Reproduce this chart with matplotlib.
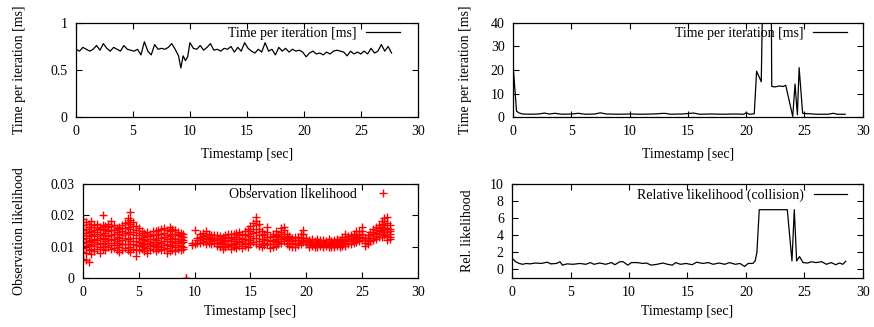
import matplotlib
matplotlib.use("Agg")
import matplotlib.pyplot as plt

plt.rcParams['font.family'] = ['Liberation Serif', 'DejaVu Serif']
plt.rcParams['font.size'] = 10

# --- time per iteration (first run) ---
iter_t = [0.0, 0.3, 0.6, 0.9, 1.2, 1.5, 1.8, 2.1, 2.4, 2.7, 3.0, 3.3, 3.6, 3.9,
          4.2, 4.5, 4.8, 5.1, 5.4, 5.7, 6.0, 6.3, 6.6, 6.9, 7.2, 7.5, 7.8, 8.1,
          8.4, 8.7, 9.0, 9.2, 9.4, 9.6, 9.8, 10.0, 10.3, 10.6, 10.9, 11.2, 11.5,
          11.8, 12.1, 12.4, 12.7, 13.0, 13.3, 13.6, 13.9, 14.2, 14.5, 14.8, 15.1,
          15.4, 15.7, 16.0, 16.3, 16.6, 16.9, 17.2, 17.5, 17.8, 18.1, 18.4, 18.7,
          19.0, 19.3, 19.6, 19.9, 20.2, 20.5, 20.8, 21.1, 21.4, 21.7, 22.0, 22.3,
          22.6, 22.9, 23.2, 23.5, 23.8, 24.1, 24.4, 24.7, 25.0, 25.3, 25.6, 25.9,
          26.2, 26.5, 26.8, 27.1, 27.4, 27.7]
iter_ms = [0.72, 0.70, 0.74, 0.72, 0.70, 0.72, 0.76, 0.71, 0.78, 0.73, 0.70, 0.74,
           0.72, 0.70, 0.76, 0.72, 0.71, 0.70, 0.72, 0.66, 0.80, 0.70, 0.66, 0.77,
           0.72, 0.73, 0.72, 0.74, 0.78, 0.72, 0.65, 0.52, 0.65, 0.60, 0.64, 0.79,
           0.73, 0.72, 0.76, 0.71, 0.74, 0.78, 0.71, 0.72, 0.70, 0.73, 0.72, 0.75,
           0.69, 0.74, 0.70, 0.79, 0.73, 0.70, 0.68, 0.72, 0.69, 0.79, 0.70, 0.72,
           0.66, 0.74, 0.70, 0.73, 0.69, 0.72, 0.70, 0.71, 0.69, 0.64, 0.68, 0.70,
           0.67, 0.68, 0.66, 0.69, 0.67, 0.70, 0.71, 0.70, 0.69, 0.65, 0.70, 0.67,
           0.69, 0.67, 0.70, 0.67, 0.73, 0.68, 0.70, 0.77, 0.70, 0.75, 0.68]

# --- time per iteration (collision run) ---
coll_t = [0.0, 0.05, 0.3, 0.5, 0.8, 1.5, 2.2, 2.7, 3.1, 3.6, 4.2, 5.0, 5.6, 6.2,
          7.0, 7.5, 8.0, 9.0, 10.0, 11.0, 12.0, 13.0, 13.5, 14.5, 15.5, 16.0,
          17.0, 18.0, 19.0, 19.8, 20.0, 20.3, 20.7, 20.9, 21.3, 21.45, 22.15,
          22.2, 22.5, 22.8, 23.2, 23.4, 24.0, 24.2, 24.4, 24.55, 24.85, 25.0,
          25.5, 26.0, 27.0, 27.5, 27.8, 28.5]
coll_ms = [11.0, 19.0, 2.5, 1.8, 1.3, 1.2, 1.3, 1.7, 1.3, 1.6, 1.2, 1.3, 1.6, 1.2,
           1.3, 1.8, 1.3, 1.2, 1.3, 1.2, 1.3, 1.6, 1.2, 1.3, 1.7, 1.2, 1.3, 1.2,
           1.3, 1.2, 1.8, 1.2, 1.4, 19.5, 15.0, 60.0, 60.0, 13.0, 12.8, 13.2,
           13.0, 13.5, 0.3, 14.0, 1.0, 21.0, 1.6, 1.5, 1.4, 1.2, 1.2, 1.6, 1.2, 1.2]

# --- observation likelihood (x 1e-3), one column of samples per timestamp ---
obs_t = [0.0, 0.25, 0.5, 0.75, 1.0, 1.25, 1.5, 1.75, 2.0, 2.25, 2.5, 2.75, 3.0,
         3.25, 3.5, 3.75, 4.0, 4.25, 4.5, 4.75, 5.0, 5.25, 5.5, 5.75, 6.0, 6.25,
         6.5, 6.75, 7.0, 7.25, 7.5, 7.75, 8.0, 8.25, 8.5, 8.75, 9.0, 9.2, 9.75,
         10.0, 10.25, 10.5, 10.75, 11.0, 11.25, 11.5, 11.75, 12.0, 12.25, 12.5,
         12.75, 13.0, 13.25, 13.5, 13.75, 14.0, 14.25, 14.5, 14.75, 15.0, 15.25,
         15.5, 15.75, 16.0, 16.25, 16.5, 16.75, 17.0, 17.25, 17.5, 17.75, 18.0,
         18.25, 18.5, 18.75, 19.0, 19.25, 19.5, 19.75, 20.0, 20.25, 20.5, 20.75,
         21.0, 21.25, 21.5, 21.75, 22.0, 22.25, 22.5, 22.75, 23.0, 23.25, 23.5,
         23.75, 24.0, 24.25, 24.5, 24.75, 25.0, 25.25, 25.5, 25.75, 26.0, 26.25,
         26.5, 26.75, 27.0, 27.25, 27.5]
obs_v = [
    [6.1, 8.4, 9.7, 11.3, 12.6, 13.8, 15.2, 16.9, 18.7],
    [5.8, 7.9, 10.2, 11.6, 12.9, 14.4, 15.7, 17.8],
    [5.1, 8.8, 10.6, 11.9, 13.3, 14.7, 16.3, 17.2],
    [7.6, 9.4, 10.8, 12.2, 13.6, 15.1, 16.4, 18.1],
    [8.7, 10.3, 11.5, 12.4, 13.9, 15.3, 16.8],
    [9.2, 10.9, 12.1, 13.4, 14.6, 16.1, 17.3],
    [8.1, 9.8, 11.2, 12.8, 14.2, 15.6, 16.4],
    [9.3, 10.7, 12.3, 13.7, 15.2, 16.9, 20.1],
    [8.9, 10.2, 11.7, 12.9, 14.4, 15.8, 16.7],
    [9.8, 11.1, 12.4, 13.3, 14.9, 16.2, 17.4],
    [9.1, 10.6, 12.0, 13.8, 15.3, 16.6, 18.2],
    [9.7, 11.3, 12.6, 14.1, 15.4, 17.0],
    [8.8, 10.4, 11.8, 13.2, 14.7, 16.1],
    [8.3, 9.9, 11.1, 12.7, 14.0, 15.6, 16.3],
    [9.0, 10.8, 12.2, 13.6, 15.1, 16.9],
    [9.6, 11.0, 12.8, 14.3, 15.9, 17.6],
    [8.9, 10.7, 12.5, 14.6, 16.4, 17.8, 19.1],
    [8.2, 9.9, 11.8, 13.9, 15.7, 17.4, 18.6, 21.0],
    [9.1, 10.8, 12.9, 14.8, 16.6, 17.9],
    [7.1, 8.9, 10.6, 11.9, 13.8, 15.4, 16.7],
    [8.8, 10.1, 11.6, 12.8, 14.3, 15.9],
    [9.2, 10.4, 11.3, 12.5, 13.6, 14.9],
    [8.7, 9.8, 10.9, 12.1, 13.2, 14.4],
    [8.1, 9.6, 10.7, 11.8, 13.5, 14.8],
    [8.9, 10.2, 11.1, 12.3, 13.4, 14.1],
    [9.3, 10.5, 11.4, 12.6, 13.8, 15.0],
    [8.6, 9.9, 10.8, 12.0, 13.7, 14.9],
    [9.1, 10.3, 11.6, 12.7, 13.9, 15.3],
    [8.8, 10.0, 11.3, 12.9, 14.2, 15.6],
    [9.4, 10.6, 11.9, 13.1, 14.5, 16.0],
    [7.9, 9.5, 10.9, 12.4, 13.8, 15.2],
    [8.7, 10.1, 11.7, 13.3, 14.9, 16.2],
    [9.0, 10.4, 11.5, 12.8, 14.1, 15.7],
    [8.6, 9.8, 11.2, 12.6, 13.9, 15.4],
    [9.2, 10.5, 11.8, 12.4, 13.6, 14.8],
    [8.9, 10.2, 11.1, 12.3, 13.4, 14.5],
    [9.1, 10.0, 11.4, 12.1, 13.2, 14.0],
    [0.0, 0.0],
    [10.4, 11.1],
    [10.9, 15.2],
    [11.3, 12.0, 12.8],
    [11.1, 12.2, 13.0, 13.9],
    [11.4, 12.3, 13.3, 14.4],
    [10.8, 11.9, 12.9, 13.8, 14.9],
    [11.2, 12.4, 13.2, 14.1],
    [10.9, 11.7, 12.6, 13.7],
    [11.3, 12.1, 12.8, 13.6],
    [10.2, 11.1, 12.0, 12.9, 13.8],
    [9.8, 10.7, 11.6, 12.5, 13.3],
    [9.1, 10.3, 11.2, 12.2, 13.0],
    [9.9, 10.9, 11.8, 12.7, 13.6],
    [10.1, 11.0, 12.1, 13.1, 14.0],
    [9.4, 10.6, 11.7, 12.8, 13.9],
    [10.0, 11.2, 12.3, 13.2, 14.1],
    [9.7, 10.8, 11.9, 13.0, 14.3],
    [10.3, 11.4, 12.4, 13.6, 14.8],
    [9.5, 10.7, 11.8, 12.9, 14.0],
    [10.1, 11.3, 12.5, 13.7, 15.1],
    [9.9, 11.1, 12.2, 13.9, 15.8],
    [10.8, 12.0, 13.4, 14.9, 16.7],
    [11.6, 12.9, 14.3, 15.8, 17.6],
    [11.0, 12.7, 14.6, 16.8, 18.3, 19.6],
    [10.2, 11.8, 13.7, 15.5, 17.1],
    [9.8, 10.9, 12.3, 13.8, 15.0],
    [10.4, 11.3, 12.6, 13.9],
    [10.9, 12.1, 13.2, 14.7, 16.3],
    [9.6, 10.8, 11.9, 13.1],
    [9.9, 11.0, 12.2, 13.3, 14.2],
    [10.2, 11.4, 12.6, 13.7, 15.0],
    [10.8, 11.9, 13.0, 14.1],
    [11.1, 12.3, 13.4, 14.6, 15.9],
    [11.8, 12.9, 14.0, 15.2, 16.2],
    [10.9, 12.0, 13.1, 14.2],
    [10.1, 11.2, 12.4, 13.5],
    [9.8, 10.9, 11.9, 12.9],
    [10.0, 11.1, 12.2, 13.2],
    [10.4, 11.3, 12.1, 13.0],
    [10.8, 11.8, 12.9, 14.0],
    [11.6, 12.7, 13.9, 15.3],
    [10.7, 11.4, 12.1, 12.9],
    [9.8, 10.4, 11.0, 11.5, 12.1],
    [10.1, 10.6, 11.2, 11.8, 12.3],
    [9.9, 10.5, 11.1, 11.7],
    [10.0, 10.7, 11.3, 11.9, 12.4],
    [10.2, 10.8, 11.4, 12.0],
    [9.9, 10.4, 11.0, 11.6, 12.2],
    [10.1, 10.7, 11.3, 11.9],
    [9.8, 10.5, 11.1, 11.7, 12.3],
    [10.0, 10.6, 11.2, 11.8],
    [9.9, 10.4, 11.0, 11.5, 12.1],
    [10.1, 10.8, 11.4, 12.0, 12.6],
    [9.9, 10.5, 11.1, 11.7, 12.2],
    [10.2, 10.9, 11.6, 12.3, 13.1],
    [10.3, 11.2, 12.1, 13.0, 14.2],
    [10.8, 11.7, 12.6, 13.4],
    [11.0, 11.9, 12.8, 13.7],
    [11.2, 12.1, 13.0, 14.1],
    [11.4, 12.3, 13.3, 14.2, 15.0],
    [11.9, 12.8, 13.8, 14.9],
    [12.1, 13.1, 14.2, 15.1, 16.2],
    [10.3, 11.2, 12.0, 12.9],
    [11.0, 11.9, 12.8, 13.7],
    [11.8, 12.7, 13.6, 14.6],
    [12.0, 12.9, 13.9, 14.8, 15.7],
    [12.6, 13.5, 14.4, 15.4, 16.2],
    [13.0, 13.9, 14.9, 15.9, 16.8],
    [13.2, 14.1, 15.2, 16.4, 17.4, 18.1],
    [13.6, 14.7, 15.8, 17.0, 18.2, 19.1],
    [12.1, 13.4, 14.8, 16.1, 17.5, 19.6],
    [12.3, 13.1, 14.0, 14.9, 15.8, 16.9],
]

# --- relative likelihood (collision) ---
rel_t = [0.0, 0.3, 0.6, 0.9, 1.2, 1.5, 2.0, 2.5, 3.0, 3.3, 3.8, 4.1, 4.3, 4.7,
         5.2, 5.8, 6.3, 6.7, 7.0, 7.5, 8.0, 8.5, 8.8, 9.2, 9.5, 9.9, 10.2, 10.7,
         11.2, 11.5, 11.9, 12.4, 12.9, 13.3, 13.7, 14.0, 14.4, 14.9, 15.4, 15.8,
         16.3, 16.8, 17.2, 17.7, 18.2, 18.6, 19.1, 19.5, 19.9, 20.2, 20.6, 20.8,
         20.95, 21.15, 23.55, 23.95, 24.15, 24.35, 24.6, 24.9, 25.3, 25.6, 26.0,
         26.5, 26.9, 27.3, 27.7, 28.0, 28.3, 28.55]
rel_lik = [1.3, 0.9, 0.7, 0.6, 0.7, 0.65, 0.75, 0.7, 0.85, 0.65, 0.7, 0.9, 0.5,
           0.65, 0.6, 0.7, 0.6, 0.8, 0.6, 0.75, 0.6, 0.8, 0.55, 0.9, 0.9, 0.5,
           0.8, 0.8, 0.7, 0.75, 0.5, 0.6, 0.75, 0.6, 0.5, 0.8, 0.6, 0.7, 0.55,
           0.85, 0.7, 0.8, 0.6, 0.75, 0.6, 0.8, 0.6, 0.7, 0.35, 0.7, 0.7, 1.0,
           2.0, 7.0, 7.0, 1.0, 7.0, 1.0, 1.5, 0.8, 0.75, 0.9, 0.8, 0.9, 0.6, 0.8,
           0.55, 0.75, 0.6, 0.95]

obs_x = []
obs_y = []
for t, col in zip(obs_t, obs_v):
    for v in col:
        obs_x.append(t)
        obs_y.append(v / 1000.0)

fig = plt.figure(figsize=(8.74, 3.27), dpi=100)
ax_tl = fig.add_axes([0.087, 0.642, 0.391, 0.288])
ax_tr = fig.add_axes([0.587, 0.642, 0.400, 0.288])
ax_bl = fig.add_axes([0.095, 0.150, 0.383, 0.287])
ax_br = fig.add_axes([0.586, 0.150, 0.401, 0.287])

line_kw = dict(color='black', lw=0.9)
ax_tl.plot(iter_t, iter_ms, label='Time per iteration [ms]', **line_kw)
ax_tr.plot(coll_t, coll_ms, label='Time per iteration [ms]', **line_kw)
ax_bl.plot(obs_x, obs_y, '+', color='red', ms=5.5, mew=1.0, ls='none',
           label='Observation likelihood')
ax_br.plot(rel_t, rel_lik, label='Relative likelihood (collision)', **line_kw)

ax_tl.set_ylim(0, 1)
ax_tl.set_yticks([0, 0.5, 1])
ax_tl.set_yticklabels(['0', '0.5', '1'])
ax_tl.set_ylabel('Time per iteration [ms]', va='center')
ax_tl.yaxis.set_label_coords(-0.165, 0.5)

ax_tr.set_ylim(0, 40)
ax_tr.set_yticks([0, 10, 20, 30, 40])
ax_tr.set_ylabel('Time per iteration [ms]', va='center')
ax_tr.yaxis.set_label_coords(-0.135, 0.5)

ax_bl.set_ylim(0, 0.03)
ax_bl.set_yticks([0, 0.01, 0.02, 0.03])
ax_bl.set_yticklabels(['0', '0.01', '0.02', '0.03'])
ax_bl.set_ylabel('Observation likelihood', va='center')
ax_bl.yaxis.set_label_coords(-0.19, 0.5)

ax_br.set_ylim(-1, 10)
ax_br.set_yticks([0, 2, 4, 6, 8, 10])
ax_br.set_ylabel('Rel. likelihood', va='center')
ax_br.yaxis.set_label_coords(-0.128, 0.5)

legend_x = {ax_tl: 0.947, ax_tr: 0.954, ax_bl: 0.946, ax_br: 0.955}
for ax in (ax_tl, ax_tr, ax_bl, ax_br):
    ax.set_xlim(0, 30)
    ax.set_xticks([0, 5, 10, 15, 20, 25, 30])
    ax.tick_params(direction='in', top=True, right=True, length=4, width=0.8,
                   labelsize=10, pad=6)
    for s in ax.spines.values():
        s.set_linewidth(0.9)
    ax.set_xlabel('Timestamp [sec]', va='center')
    ax.legend(loc='upper right', bbox_to_anchor=(legend_x[ax], 0.955),
              frameon=False, markerfirst=False, borderpad=0, borderaxespad=0,
              handlelength=2.4, handletextpad=0.7, numpoints=1, fontsize=10)

ax_tl.xaxis.set_label_coords(0.5, -0.40)
ax_tr.xaxis.set_label_coords(0.5, -0.40)
ax_bl.xaxis.set_label_coords(0.5, -0.36)
ax_br.xaxis.set_label_coords(0.5, -0.36)

fig.savefig('out.png', dpi=100)
